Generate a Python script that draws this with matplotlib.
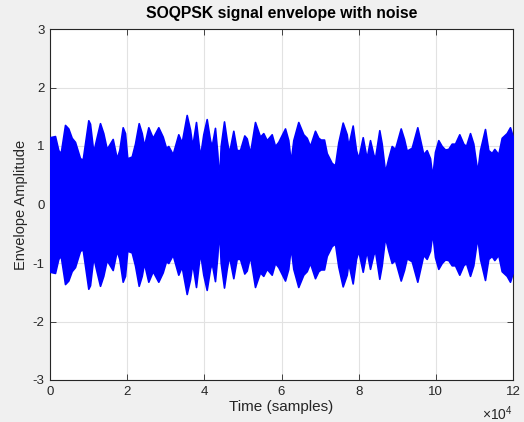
import matplotlib
matplotlib.use("Agg")
import matplotlib.pyplot as plt
import numpy as np

# Envelope: time (x 10^4 samples) and upper envelope amplitude
time_1e4 = [0.0, 0.13, 0.215, 0.277, 0.389, 0.474, 0.562, 0.648, 0.778, 0.848,
            0.993, 1.037, 1.122, 1.192, 1.296, 1.381, 1.470, 1.625, 1.729, 1.796,
            1.884, 1.944, 2.003, 2.118, 2.203, 2.299, 2.377, 2.436, 2.548, 2.662,
            2.807, 2.921, 3.006, 3.066, 3.180, 3.325, 3.413, 3.543, 3.629, 3.688,
            3.784, 3.888, 3.973, 4.061, 4.147, 4.191, 4.276, 4.336, 4.380, 4.424,
            4.510, 4.580, 4.639, 4.751, 4.839, 4.924, 5.036, 5.098, 5.184, 5.313,
            5.443, 5.528, 5.617, 5.746, 5.832, 5.917, 6.091, 6.176, 6.238, 6.306,
            6.435, 6.565, 6.653, 6.739, 6.868, 6.954, 7.016, 7.102, 7.172, 7.301,
            7.387, 7.472, 7.586, 7.690, 7.731, 7.845, 7.931, 7.991, 8.105, 8.205,
            8.294, 8.379, 8.423, 8.535, 8.597, 8.683, 8.768, 8.856, 8.942, 9.090,
            9.175, 9.245, 9.375, 9.520, 9.608, 9.675, 9.763, 9.849, 9.908, 9.978,
            10.064, 10.152, 10.238, 10.323, 10.411, 10.497, 10.608, 10.712, 10.782, 10.886,
            10.971, 11.075, 11.145, 11.274, 11.360, 11.448, 11.516, 11.619, 11.707, 11.837,
            11.922, 12.0]
upper_env = [1.15, 1.17, 0.93, 0.875, 1.36, 1.30, 1.14, 1.07, 0.79, 0.77,
             1.44, 1.38, 0.90, 1.10, 1.39, 1.22, 0.95, 1.12, 0.79, 0.93,
             1.32, 1.22, 0.79, 0.82, 1.04, 1.39, 1.22, 1.00, 1.32, 1.14,
             1.32, 1.16, 0.97, 1.00, 0.86, 1.20, 1.06, 1.53, 1.28, 1.00,
             1.41, 0.82, 1.20, 1.46, 1.10, 1.00, 1.31, 0.88, 0.42, 1.00,
             1.42, 1.10, 0.88, 1.26, 0.93, 0.93, 1.18, 1.13, 0.88, 1.41,
             1.16, 1.22, 1.10, 1.20, 1.00, 1.07, 1.30, 1.10, 0.73, 1.10,
             1.41, 1.20, 1.14, 1.00, 1.26, 1.14, 1.11, 1.11, 0.88, 0.71,
             0.67, 1.06, 1.40, 1.20, 1.00, 1.35, 0.93, 0.79, 1.15, 0.79,
             1.10, 0.86, 0.79, 1.27, 1.04, 0.56, 0.79, 1.00, 0.95, 1.30,
             1.12, 0.92, 0.97, 1.32, 1.06, 0.86, 0.93, 0.79, 0.48, 0.90,
             1.10, 1.00, 0.94, 0.95, 1.04, 1.04, 1.20, 1.04, 1.00, 1.22,
             1.04, 0.56, 0.93, 1.29, 0.93, 0.88, 0.95, 0.86, 1.14, 1.22,
             1.32, 1.15]
lower_env = [-v for v in upper_env]

x_ticks = [0, 2, 4, 6, 8, 10, 12]
y_ticks = [-3, -2, -1, 0, 1, 2, 3]

plt.rcParams['font.family'] = ['Liberation Sans', 'DejaVu Sans']
fig = plt.figure(figsize=(5.24, 4.22), dpi=100, facecolor='#f0f0f0')
ax = fig.add_axes([50/524, 1-380/422, 463/524, 351/422])
ax.set_facecolor('white')

ax.fill_between(time_1e4, lower_env, upper_env, color='#0000ff', linewidth=1.2,
                edgecolor='#0000ff', joinstyle='round', zorder=3)

ax.set_xlim(0, 12)
ax.set_ylim(-3, 3)
ax.set_xticks(x_ticks)
ax.set_yticks(y_ticks)
ax.set_xticklabels([str(t) for t in x_ticks])
ax.set_yticklabels([str(t) for t in y_ticks])
ax.grid(True, color='#e2e2e2', linewidth=0.8, zorder=0)
ax.set_axisbelow(True)
ax.tick_params(direction='in', top=True, right=True, length=4, width=0.6,
               colors='#262626', labelsize=9.5, pad=4)
for s in ax.spines.values():
    s.set_color('#262626')
    s.set_linewidth(0.8)

ax.set_title('SOQPSK signal envelope with noise', fontsize=11.3, fontweight='bold',
             color='black', pad=8)
ax.set_xlabel('Time (samples)', fontsize=11, color='#262626', labelpad=2)
ax.set_ylabel('Envelope Amplitude', fontsize=10.5, color='#262626', labelpad=3)
ax.text(1.0, -0.07, r'$\mathregular{\times 10^{4}}$', transform=ax.transAxes,
        ha='right', va='top', fontsize=10, color='#262626')

fig.savefig('out.png', dpi=100, facecolor=fig.get_facecolor())
